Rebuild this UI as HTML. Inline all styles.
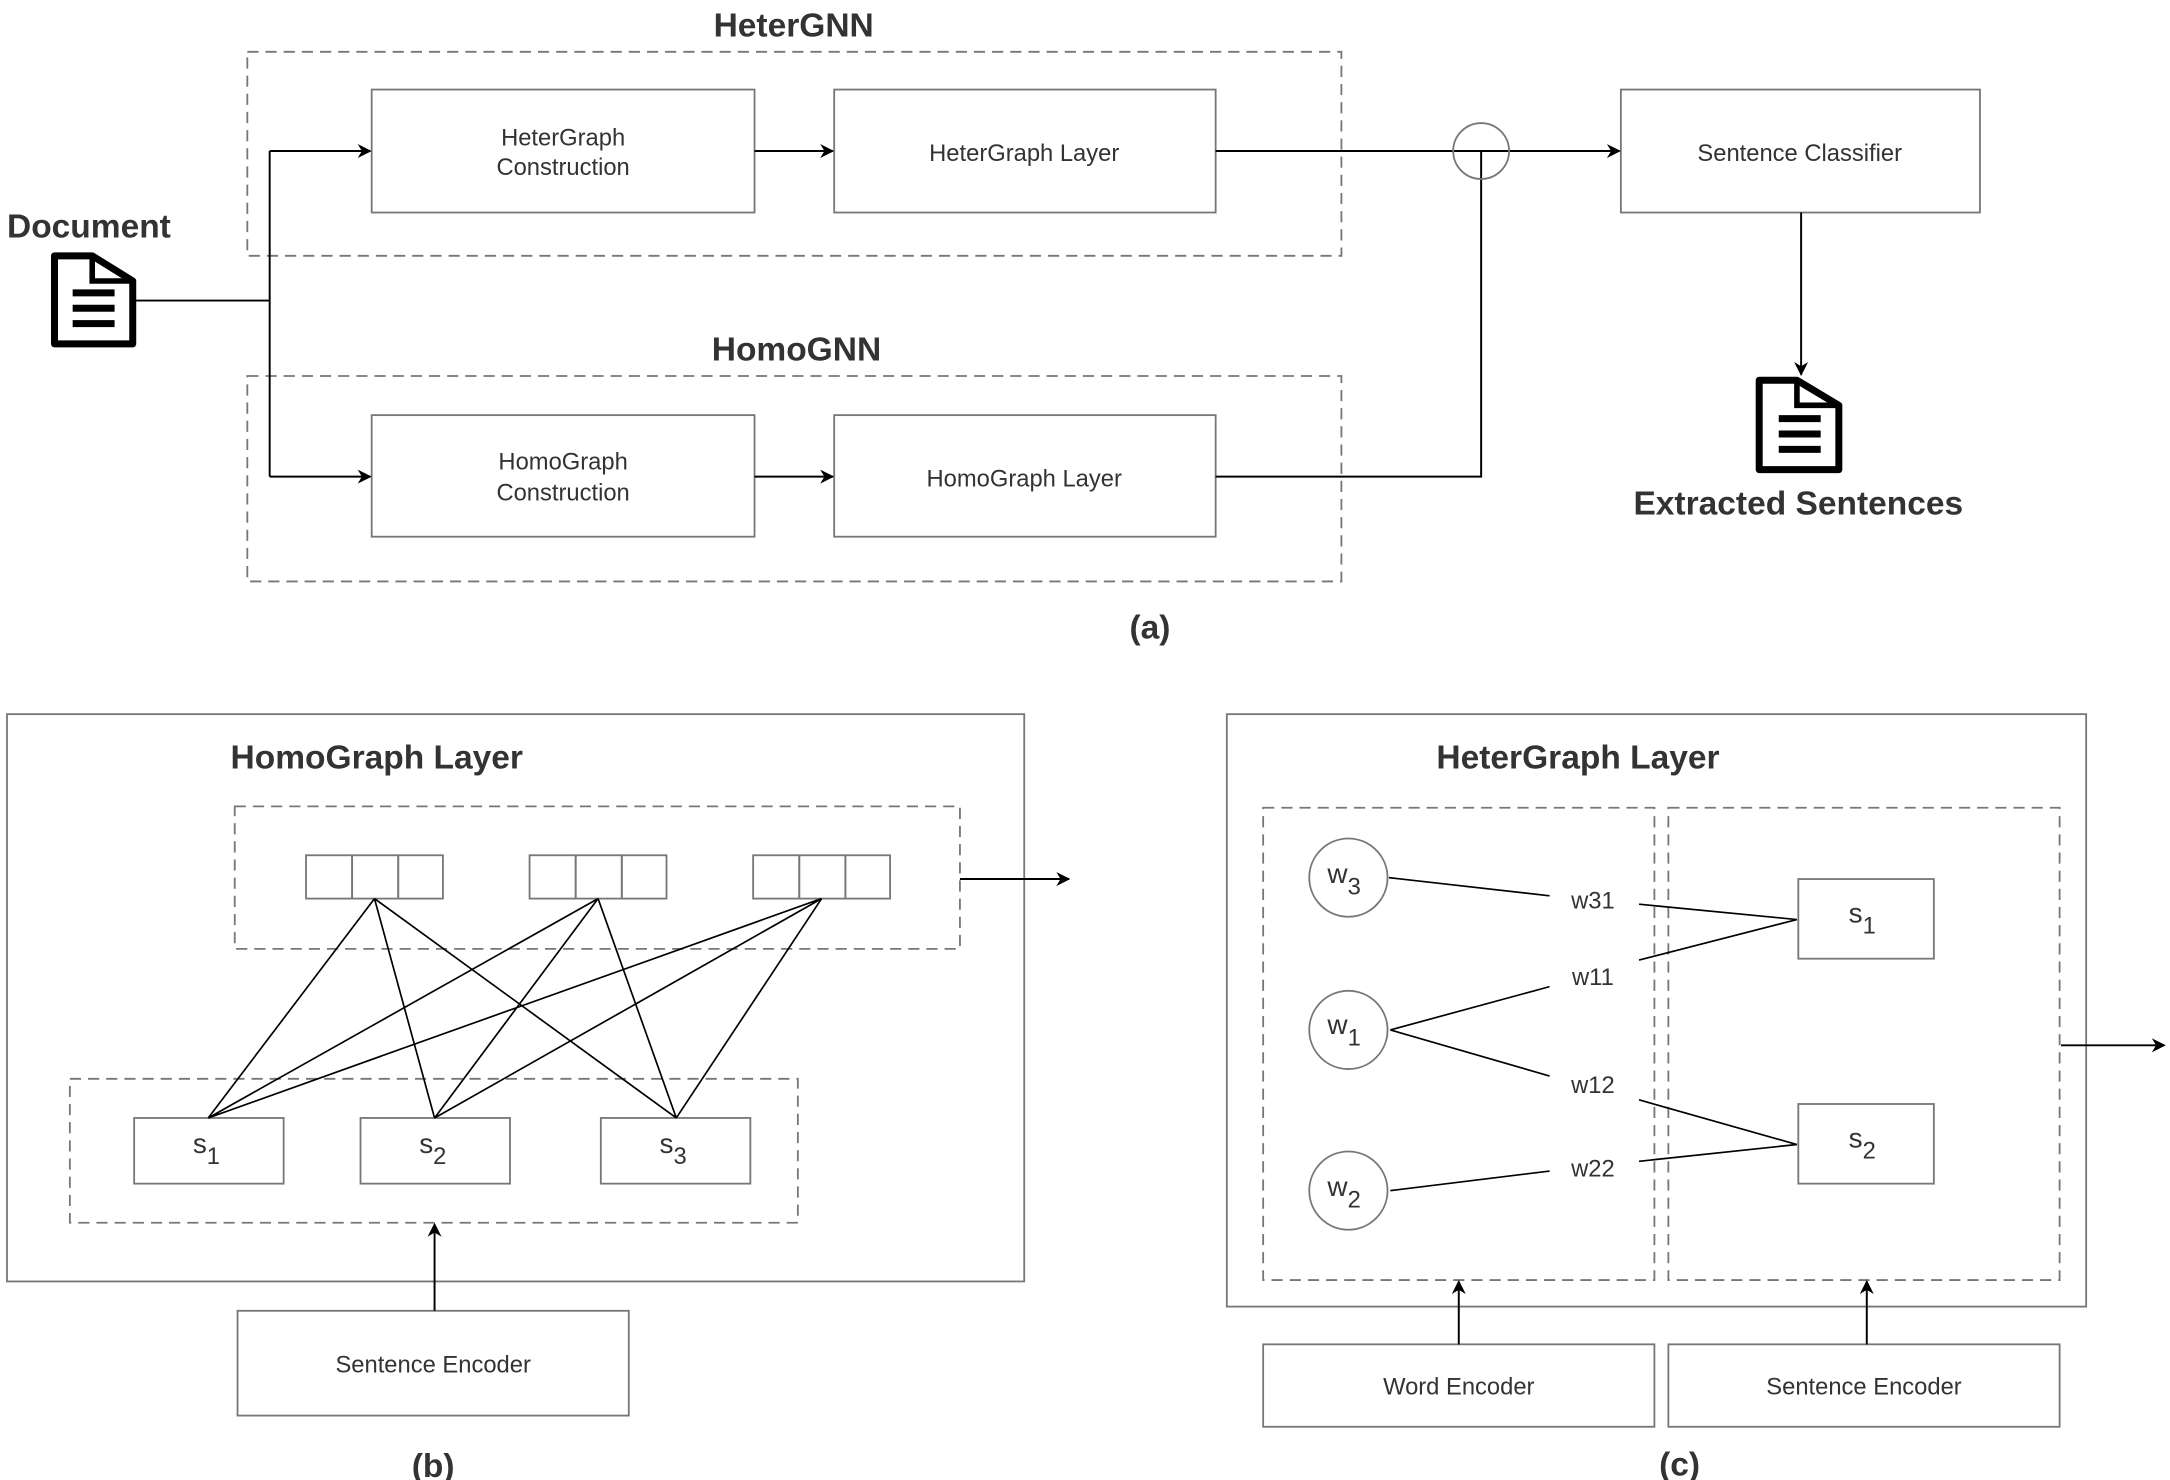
<!DOCTYPE html>
<html><head><meta charset="utf-8"><style>html,body{margin:0;padding:0;background:#fff}svg{display:block}</style></head>
<body>
<svg width="2170" height="1480" viewBox="0 0 1553 1059" xmlns="http://www.w3.org/2000/svg" font-family="Liberation Sans, sans-serif">
<defs>
<marker id="ar" markerWidth="10" markerHeight="10" refX="9" refY="5" orient="auto" markerUnits="userSpaceOnUse"><path d="M0,0 L10,5 L0,10 L3,5 Z" fill="#000"/></marker>
</defs>
<g fill="none" stroke="#777" stroke-width="1.3">
<rect x="177" y="37" width="783" height="146" stroke-dasharray="8,5"/>
<rect x="177" y="269" width="783" height="147" stroke-dasharray="8,5"/>
<rect x="266" y="64" width="274" height="88"/>
<rect x="597" y="64" width="273" height="88"/>
<rect x="266" y="297" width="274" height="87"/>
<rect x="597" y="297" width="273" height="87"/>
<rect x="1160" y="64" width="257" height="88"/>
<rect x="5" y="511" width="728" height="406"/>
<rect x="168" y="577" width="519" height="102" stroke-dasharray="8,5"/>
<rect x="50" y="772" width="521" height="103" stroke-dasharray="8,5"/>
<rect x="219" y="612" width="33" height="31"/><rect x="252" y="612" width="33" height="31"/><rect x="285" y="612" width="32" height="31"/>
<rect x="379" y="612" width="33" height="31"/><rect x="412" y="612" width="33" height="31"/><rect x="445" y="612" width="32" height="31"/>
<rect x="539" y="612" width="33" height="31"/><rect x="572" y="612" width="33" height="31"/><rect x="605" y="612" width="32" height="31"/>
<rect x="96" y="800" width="107" height="47"/><rect x="258" y="800" width="107" height="47"/><rect x="430" y="800" width="107" height="47"/>
<rect x="170" y="938" width="280" height="75"/>
<rect x="878" y="511" width="615" height="424"/>
<rect x="904" y="578" width="280" height="338" stroke-dasharray="8,5"/>
<rect x="1194" y="578" width="280" height="338" stroke-dasharray="8,5"/>
<circle cx="965" cy="628" r="28"/><circle cx="965" cy="737" r="28"/><circle cx="965" cy="852" r="28"/>
<rect x="1287" y="629" width="97" height="57"/><rect x="1287" y="790" width="97" height="57"/>
<rect x="904" y="962" width="280" height="59"/><rect x="1194" y="962" width="280" height="59"/>
</g>
<g fill="none" stroke="#000" stroke-width="1.4">
<path d="M97,215 H193 M193,108 V341"/>
<path d="M193,108 H265" marker-end="url(#ar)"/>
<path d="M193,341 H265" marker-end="url(#ar)"/>
<path d="M540,108 H596" marker-end="url(#ar)"/>
<path d="M540,341 H596" marker-end="url(#ar)"/>
<path d="M870,108 H1159" marker-end="url(#ar)"/>
<path d="M870,341 H1060 V108"/>
<path d="M1289,152 V268" marker-end="url(#ar)"/>
<path d="M687,629 H765" marker-end="url(#ar)"/>
<path d="M311,938 V876" marker-end="url(#ar)"/>
<path d="M1475,748 H1549" marker-end="url(#ar)"/>
<path d="M1044,962 V917" marker-end="url(#ar)"/>
<path d="M1336,962 V917" marker-end="url(#ar)"/>
<g stroke-width="1.2">
<path d="M268,643 L149,800 M268,643 L311,800 M268,643 L484,800 M428,643 L149,800 M428,643 L311,800 M428,643 L484,800 M588,643 L149,800 M588,643 L311,800 M588,643 L484,800"/>
<path d="M994,628 L1109,641 M1173,647 L1286,658 M1173,687 L1286,658 M995,737 L1109,706 M995,737 L1109,770 M1173,787 L1286,819 M1173,831 L1286,819 M995,852 L1109,838"/>
</g>
</g>
<ellipse cx="1060" cy="108" rx="20" ry="20" fill="none" stroke="#777" stroke-width="1.3"/>
<g fill="#000">
<g stroke="#000" stroke-width="5" fill="none" stroke-linejoin="round"><path d="M39,183 H66 L95,201 V246 H39 Z"/><path d="M1259,272 H1286 L1316,290 V336 H1259 Z"/></g>
<path d="M66,183 V201 H95" stroke="#000" stroke-width="4" fill="none"/>
<path d="M1286,272 V290 H1316" stroke="#000" stroke-width="4" fill="none"/>
<rect x="52" y="207" width="30" height="5"/><rect x="52" y="218" width="30" height="5"/><rect x="52" y="229" width="30" height="5"/>
<rect x="1273" y="297" width="30" height="5"/><rect x="1273" y="308" width="30" height="5"/><rect x="1273" y="319" width="30" height="5"/>
</g>
<g fill="#333" font-weight="bold" font-size="24">
<text x="568" y="26" text-anchor="middle">HeterGNN</text>
<text x="570" y="258" text-anchor="middle">HomoGNN</text>
<text x="5" y="170">Document</text>
<text x="1287" y="368" text-anchor="middle">Extracted Sentences</text>
<text x="165" y="550">HomoGraph Layer</text>
<text x="1028" y="550">HeterGraph Layer</text>
<text x="823" y="457" text-anchor="middle">(a)</text>
<text x="310" y="1057" text-anchor="middle">(b)</text>
<text x="1202" y="1056" text-anchor="middle">(c)</text>
</g>
<g fill="#333" font-size="17" text-anchor="middle">
<text x="403" y="104">HeterGraph</text><text x="403" y="125">Construction</text>
<text x="733" y="115">HeterGraph Layer</text>
<text x="403" y="336">HomoGraph</text><text x="403" y="358">Construction</text>
<text x="733" y="348">HomoGraph Layer</text>
<text x="1288" y="115">Sentence Classifier</text>
<text x="310" y="982">Sentence Encoder</text>
<text x="1044" y="998">Word Encoder</text>
<text x="1334" y="998">Sentence Encoder</text>
<text x="1140" y="650">w31</text><text x="1140" y="705">w11</text><text x="1140" y="782">w12</text><text x="1140" y="842">w22</text>
</g>
<g fill="#333" font-size="20">
<text x="138" y="825">s<tspan font-size="17" dy="8">1</tspan></text>
<text x="300" y="825">s<tspan font-size="17" dy="8">2</tspan></text>
<text x="472" y="825">s<tspan font-size="17" dy="8">3</tspan></text>
<text x="1323" y="660">s<tspan font-size="17" dy="8">1</tspan></text>
<text x="1323" y="821">s<tspan font-size="17" dy="8">2</tspan></text>
<text x="950" y="632">w<tspan font-size="17" dy="8">3</tspan></text>
<text x="950" y="740">w<tspan font-size="17" dy="8">1</tspan></text>
<text x="950" y="856">w<tspan font-size="17" dy="8">2</tspan></text>
</g>
</svg>
</body></html>
